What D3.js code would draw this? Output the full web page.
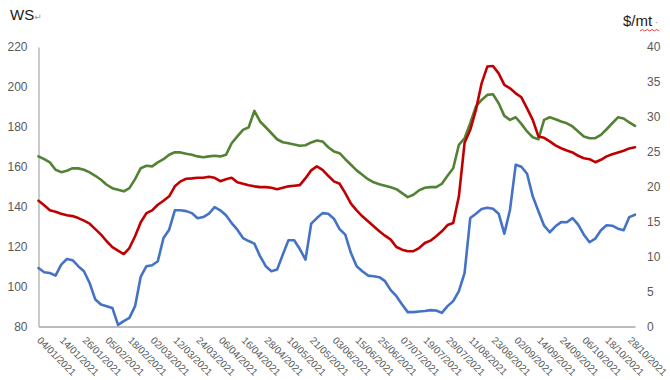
<!DOCTYPE html>
<html>
<head>
<meta charset="utf-8">
<script src="https://cdn.jsdelivr.net/npm/d3@7"></script>
<style>
  html, body { margin: 0; padding: 0; background: #ffffff; }
  svg { display: block; font-family: "Liberation Sans", Arial, sans-serif; }
</style>
</head>
<body>
<svg id="chart" width="670" height="380"></svg>
<script>
// ---- data ----
const dateLabels = ["04/01/2021","14/01/2021","26/01/2021","05/02/2021","18/02/2021","02/03/2021",
  "12/03/2021","24/03/2021","06/04/2021","16/04/2021","28/04/2021","10/05/2021","21/05/2021",
  "03/06/2021","15/06/2021","25/06/2021","07/07/2021","19/07/2021","29/07/2021","11/08/2021",
  "23/08/2021","02/09/2021","14/09/2021","24/09/2021","06/10/2021","18/10/2021","28/10/2021"];
const labelStep = 8;          // business days between date labels
const sampleStep = 2;         // business days between readings
const lastIndex = 210;        // business-day index of last reading

const blueWS = [109.3,107.2,106.8,105.5,111,113.8,113.2,110.2,107.7,101.8,93.5,91,90.2,89.3,80.8,82.7,84.3,90.2,105,110.2,110.7,112.7,124.3,128.5,138.2,138.2,137.8,
  136.8,134.2,134.8,136.5,139.8,138.2,135.7,131.8,128.5,124.3,122.8,121.5,115.2,110.2,107.7,108.5,116,123.2,123.2,118.8,113.5,131.5,134.3,136.8,136.5,134,
  128.8,126,116.8,110.2,107.7,105.5,105.2,104.7,102.7,98.2,95.2,91,87.2,87.2,87.5,87.8,88.2,88,86.8,90.2,92.7,97.7,106.8,134.3,136.5,138.8,139.5,
  139,136.5,126.5,138.5,161,160,156.5,145.2,137.7,130.5,127.2,130.2,132.3,132.2,134.3,131,126,122.2,124,128.2,130.7,130.5,129,128.2,134.8,136];
const redWS = [143,140.7,138.2,137.5,136.5,135.7,135.3,134.3,133,131.5,128.8,126,122.7,119.8,118,116.3,119.3,125.2,132.2,136.8,138.2,141,143,145.2,150.2,152.7,154,
  154.2,154.5,154.5,155,154.5,152.8,153.8,154.5,152.2,151.5,150.8,150.2,149.8,149.8,149.5,148.8,149.5,150.2,150.5,150.8,154.3,158.2,160.2,158.5,155.5,152.7,
  151.5,146.8,141.5,138.2,135.2,132.7,130.2,127.7,125.5,123.5,119.8,118.5,117.7,117.7,119.3,121.8,123,125.2,127.7,130.8,131.8,145.2,172,178.5,188.5,201.8,210.2,
  210.5,206.8,201,199.3,196.8,194.8,189.3,183.5,175.2,174.5,172.7,170.7,169.3,168.2,167.2,165.5,164.3,163.8,162.3,163.5,165.2,166.3,167.2,168,169.2,169.8];
const greenWS = [165.2,163.8,162.2,158.5,157.3,158,159.3,159.2,158.5,157.2,155.5,153.5,151,149.3,148.5,147.7,149.3,153.8,159.3,160.5,160.2,162.2,163.8,166,167.3,167.2,166.5,
  166,165.2,164.8,165.2,165.5,165.2,166,171.8,175.2,178.5,179.8,188,182.7,179.8,176.8,173.8,172.3,171.8,171.2,170.5,170.8,172.2,173.2,172.7,169.8,167.7,
  166.8,163.8,161,158.2,156,153.8,152.2,151.3,150.5,149.7,148.8,146.8,144.8,146,148.2,149.5,149.8,149.8,151.5,155.5,159.3,171,174.3,181.8,190.2,193.5,196,
  196.3,191.8,185.5,183.5,184.8,181.5,177.7,174.8,173.8,183.5,184.8,183.8,182.7,181.8,180.2,177.7,175.2,174.3,174.3,176,178.8,181.8,184.8,184.2,182.2,180.5];
const leftTicks = [80,100,120,140,160,180,200,220];
const rightTicks = [0,5,10,15,20,25,30,35,40];
const leftTitle = "WS";
const rightTitle = "$/mt";

// ---- layout ----
const svg = d3.select("#chart");
const plot = { left: 38.5, right: 635, top: 47, bottom: 326.5 };

const x = d3.scaleLinear().domain([0, lastIndex]).range([plot.left, plot.right]);
const yL = d3.scaleLinear().domain([80, 220]).range([plot.bottom, plot.top]);
const yR = d3.scaleLinear().domain([0, 40]).range([plot.bottom, plot.top]);

const tickColor = "#595959";
const axisColor = "#a6a6a6";

// Left axis
const gL = svg.append("g").attr("transform", `translate(${plot.left},0)`)
  .call(d3.axisLeft(yL).tickValues(leftTicks).tickSize(0).tickPadding(11));
gL.select(".domain").attr("stroke", axisColor).attr("stroke-width", 1.2);
gL.selectAll("text").attr("fill", tickColor).attr("font-size", 12);

// Right axis
const gR = svg.append("g").attr("transform", `translate(${plot.right},0)`)
  .call(d3.axisRight(yR).tickValues(rightTicks).tickSize(0).tickPadding(12));
gR.select(".domain").remove();
gR.selectAll("text").attr("fill", tickColor).attr("font-size", 12);

// Bottom axis
const tickIdx = dateLabels.map((d, i) => i * labelStep);
const gB = svg.append("g").attr("transform", `translate(0,${plot.bottom})`)
  .call(d3.axisBottom(x).tickValues(tickIdx).tickSize(0)
    .tickFormat((d) => dateLabels[d / labelStep]));
gB.select(".domain").attr("stroke", axisColor).attr("stroke-width", 1.6);
gB.selectAll("text")
  .attr("fill", tickColor)
  .attr("font-size", 10)
  .attr("text-anchor", "start")
  .attr("dy", null)
  .attr("y", 0)
  .attr("transform", "translate(-2.5,14.5) rotate(45)");

// Lines
const idx = d3.range(0, lastIndex + 1, sampleStep);
const line = d3.line().x((d) => x(d[0])).y((d) => yL(d[1]));
const series = [
  { values: greenWS, color: "#548235" },
  { values: redWS, color: "#c00000" },
  { values: blueWS, color: "#4472c4" }
];
series.forEach((s) => {
  svg.append("path")
    .datum(idx.map((k, i) => [k, s.values[i]]))
    .attr("fill", "none")
    .attr("stroke", s.color)
    .attr("stroke-width", 2.6)
    .attr("stroke-linejoin", "round")
    .attr("stroke-linecap", "round")
    .attr("d", line);
});

// Titles
const lt = svg.append("text").attr("x", 10).attr("y", 20)
  .attr("font-size", 15).attr("fill", "#1a1a1a");
lt.append("tspan").text(leftTitle);
lt.append("tspan").attr("font-size", 9).attr("fill", "#9a9a9a").attr("font-family", "DejaVu Sans").text("↵");

const rt = svg.append("text").attr("x", 623).attr("y", 26)
  .attr("font-size", 15).attr("fill", "#1a1a1a");
rt.append("tspan").text(rightTitle);
rt.append("tspan").attr("fill", "#9a9a9a").attr("font-size", 10).text(" ·");
// spell-check squiggle under "mt"
const sq = d3.range(0, 9).map((k) => [640 + k * 2.4, k % 2 ? 29.5 : 31]);
svg.append("path").attr("d", d3.line()(sq)).attr("fill", "none")
  .attr("stroke", "#e03030").attr("stroke-width", 0.9);
</script>
</body>
</html>
